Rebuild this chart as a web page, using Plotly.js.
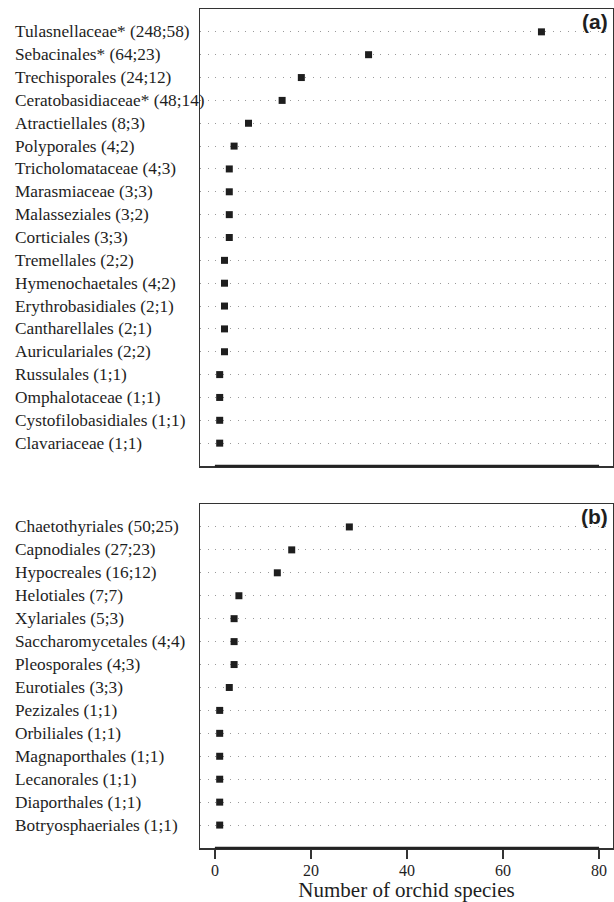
<!DOCTYPE html>
<html>
<head>
<meta charset="utf-8">
<script src="https://cdn.plot.ly/plotly-3.0.1.min.js"></script>
<style>html,body{margin:0;padding:0;background:#fff;}#chart{width:614px;height:902px;}</style>
</head>
<body>
<div id="chart"></div>
<script>
const labelsA = ["Tulasnellaceae* (248;58)","Sebacinales* (64;23)","Trechisporales (24;12)","Ceratobasidiaceae* (48;14)","Atractiellales (8;3)","Polyporales (4;2)","Tricholomataceae (4;3)","Marasmiaceae (3;3)","Malasseziales (3;2)","Corticiales (3;3)","Tremellales (2;2)","Hymenochaetales (4;2)","Erythrobasidiales (2;1)","Cantharellales (2;1)","Auriculariales (2;2)","Russulales (1;1)","Omphalotaceae (1;1)","Cystofilobasidiales (1;1)","Clavariaceae (1;1)"];
const valuesA = [68, 32, 18, 14, 7, 4, 3, 3, 3, 3, 2, 2, 2, 2, 2, 1, 1, 1, 1];
const labelsB = ["Chaetothyriales (50;25)","Capnodiales (27;23)","Hypocreales (16;12)","Helotiales (7;7)","Xylariales (5;3)","Saccharomycetales (4;4)","Pleosporales (4;3)","Eurotiales (3;3)","Pezizales (1;1)","Orbiliales (1;1)","Magnaporthales (1;1)","Lecanorales (1;1)","Diaporthales (1;1)","Botryosphaeriales (1;1)"];
const valuesB = [28, 16, 13, 5, 4, 4, 4, 3, 1, 1, 1, 1, 1, 1];
const xTicks = [0, 20, 40, 60, 80];
const panelTags = ["(a)", "(b)"];
const xTitle = "Number of orchid species";

const rowsA = labelsA.map((_, i) => i + 1);
const rowsB = labelsB.map((_, i) => i + 1);
const serif = "'Liberation Serif', 'Times New Roman', serif";
const sans = "'Liberation Sans', Arial, sans-serif";
const ink = "#1e1e1e";
const marker = {symbol: "square", size: 7, color: ink};

const traces = [
  {x: valuesA, y: rowsA, xaxis: "x2", yaxis: "y2", type: "scatter", mode: "markers", marker: marker, hoverinfo: "x"},
  {x: valuesB, y: rowsB, xaxis: "x", yaxis: "y", type: "scatter", mode: "markers", marker: marker, hoverinfo: "x"}
];

const labelFont = {family: serif, size: 17.3, color: ink};
const annotations = [];
labelsA.forEach((t, i) => annotations.push({text: t, xref: "paper", x: -0.4528, xanchor: "left", yref: "y2", y: rowsA[i], yanchor: "middle", showarrow: false, font: labelFont}));
labelsB.forEach((t, i) => annotations.push({text: t, xref: "paper", x: -0.4528, xanchor: "left", yref: "y", y: rowsB[i], yanchor: "middle", showarrow: false, font: labelFont}));
const tagFont = {family: sans, size: 21, color: ink};
annotations.push({text: "<b>" + panelTags[0] + "</b>", xref: "paper", x: 1, xanchor: "right", xshift: -3, yref: "y2 domain", y: 1, yanchor: "top", yshift: 1, showarrow: false, font: tagFont});
annotations.push({text: "<b>" + panelTags[1] + "</b>", xref: "paper", x: 1, xanchor: "right", xshift: -3, yref: "y domain", y: 1, yanchor: "top", yshift: 1, showarrow: false, font: tagFont});

const xrange = [-3.1, 82.9];
const gridStyle = {showgrid: true, gridcolor: "#9a9a9a", gridwidth: 1, griddash: "1px,6.5px", zeroline: false, showticklabels: false, ticks: "", showline: true, mirror: true, linecolor: "#333", linewidth: 1.5};

const layout = {
  width: 614, height: 902,
  margin: {l: 200, r: 1, t: 9, b: 54},
  paper_bgcolor: "#fff", plot_bgcolor: "#fff",
  showlegend: false,
  xaxis: {anchor: "y", range: xrange, tickvals: xTicks, ticktext: xTicks.map(String), ticks: "outside", ticklen: 9, tickwidth: 2, tickcolor: "#333", ticklabelstandoff: -2, showgrid: false, zeroline: false, showline: true, mirror: true, linecolor: "#333", linewidth: 1.5, tickfont: {family: serif, size: 16, color: ink}, title: {text: xTitle, font: {family: serif, size: 21, color: ink}, standoff: 7}},
  xaxis2: {anchor: "y2", range: xrange, showgrid: false, zeroline: false, showticklabels: false, ticks: "", showline: true, mirror: true, linecolor: "#333", linewidth: 1.5},
  yaxis: Object.assign({domain: [0, 0.41], range: [labelsB.length + 1, 0], tickvals: rowsB}, gridStyle),
  yaxis2: Object.assign({domain: [0.4553, 1], range: [labelsA.length + 1, 0], tickvals: rowsA}, gridStyle),
  annotations: annotations,
  shapes: [
    {type: "line", xref: "x2", yref: "y2 domain", x0: xTicks[0], x1: xTicks[xTicks.length - 1], y0: 0, y1: 0, line: {color: "#222", width: 2.5}},
    {type: "line", xref: "x", yref: "y domain", x0: xTicks[0], x1: xTicks[xTicks.length - 1], y0: 0, y1: 0, line: {color: "#222", width: 2.5}}
  ]
};

Plotly.newPlot("chart", traces, layout, {displayModeBar: false, staticPlot: true});
</script>
</body>
</html>
